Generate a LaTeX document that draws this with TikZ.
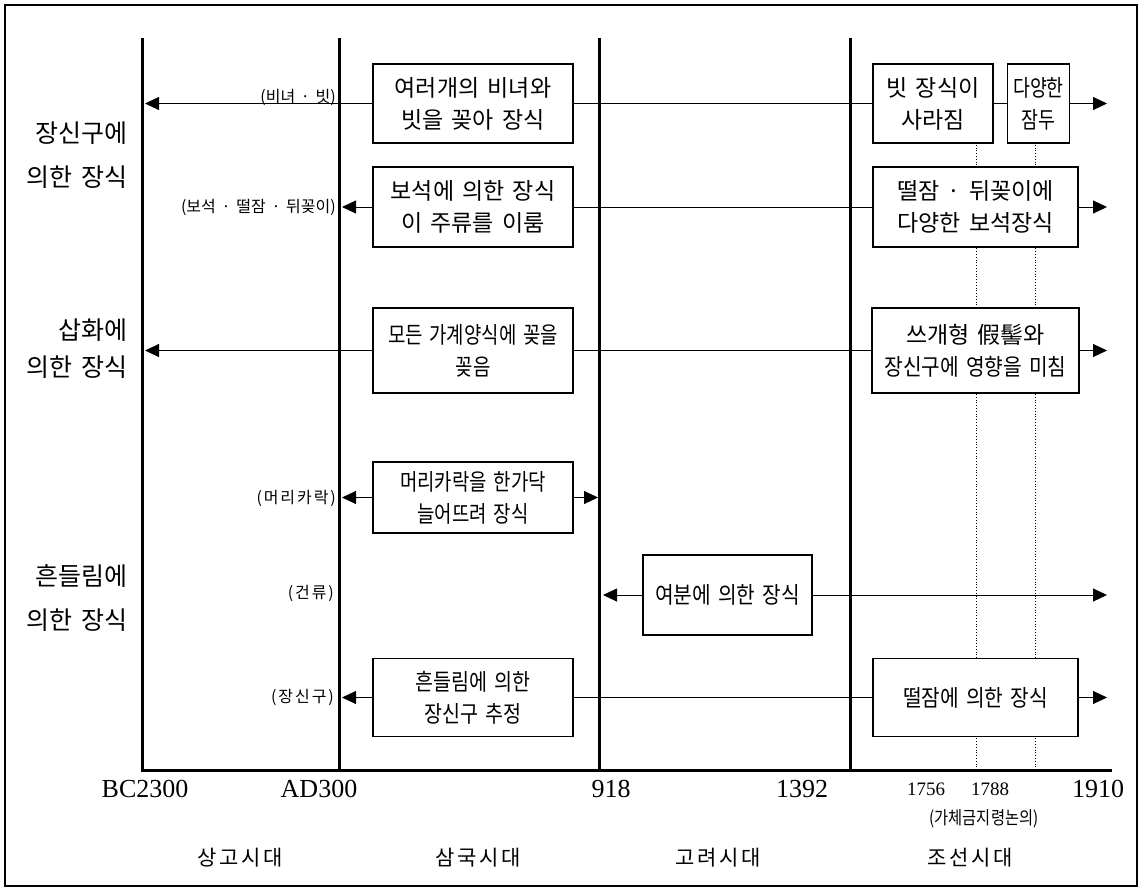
\documentclass[tikz,border=0pt]{standalone}
\usepackage{fontspec}
\usepackage{graphicx}
\setmainfont{Liberation Serif}
\newfontfamily\kr[WordSpace=2]{Noto Sans CJK KR}
\newfontfamily\krsm[WordSpace=1.6]{Noto Sans CJK KR}
\newfontfamily\krls[WordSpace=2,LetterSpace=12]{Noto Sans CJK KR}
\newcommand\hsq[2]{\scalebox{#1}[1]{#2}}
\usetikzlibrary{arrows.meta}
\begin{document}
\begin{tikzpicture}[x=1pt,y=-1pt,
  period/.style={line width=3pt, line join=miter},
  boxnode/.style={draw, line width=1.2pt, fill=white, align=center, inner sep=0pt, font=\kr\fontsize{23}{32}\selectfont},
  conn/.style={line width=0.9pt},
  arr/.style={line width=0.9pt, -{Triangle[length=14pt,width=13pt]}},
  dotline/.style={line width=0.8pt, dotted},
  side/.style={font=\kr\fontsize{25}{28}\selectfont, anchor=east, inner sep=0pt},
  small/.style={font=\krls\fontsize{16}{18}\selectfont, anchor=east, inner sep=0pt},
  smalldot/.style={font=\krsm\fontsize{16}{18}\selectfont, anchor=east, inner sep=0pt},
  yearbig/.style={font=\fontsize{26}{28}\selectfont, inner sep=0pt},
  yearsmall/.style={font=\fontsize{19}{20}\selectfont, inner sep=0pt},
  era/.style={font=\krls\fontsize{21}{24}\selectfont, inner sep=0pt}
]
\useasboundingbox (0,0) rectangle (1142,891);
\draw[line width=1.5pt] (5,5) rectangle (1137,886);

% period lines
\coordinate (aT) at (142,38);
\coordinate (aB) at (142,770);
\coordinate (baseEnd) at (1112,770);
\coordinate (bT) at (339,38);
\coordinate (bB) at (339,770);
\coordinate (cT) at (599,38);
\coordinate (cB) at (599,770);
\coordinate (dT) at (850,38);
\coordinate (dB) at (850,770);
\draw[period] (aT) -- (aB) -- (baseEnd);
\draw[period] (bT) -- (bB);
\draw[period] (cT) -- (cB);
\draw[period] (dT) -- (dB);

% dotted lines 1756 / 1788
\coordinate (p1T) at (976,142);
\coordinate (p1B) at (976,770);
\coordinate (p2T) at (1035,142);
\coordinate (p2B) at (1035,770);
\draw[dotline] (p1T) -- (p1B);
\draw[dotline] (p2T) -- (p2B);

% side labels
\node[side] (s1a) at (128,133) {장신구에};
\node[side] (s1b) at (128,177) {의한 장식};
\node[side] (s2a) at (128,330) {삽화에};
\node[side] (s2b) at (128,367) {의한 장식};
\node[side] (s3a) at (128,576) {흔들림에};
\node[side] (s3b) at (128,620) {의한 장식};

% row 1
\node[boxnode, minimum width=200pt, minimum height=79pt] (b1) at (473,103.5) {여러개의 비녀와\\빗을 꽂아 장식};
\node[boxnode, minimum width=120pt, minimum height=79pt] (c1) at (933,103.5) {빗 장식이\\사라짐};
\node[boxnode, minimum width=62pt, minimum height=79pt] (d1) at (1038.5,103.5) {\hsq{0.8}{다양한}\\\hsq{0.8}{잠두}};
\coordinate (t1) at (145,103.5);
\coordinate (e1) at (1107,103.5);
\draw[arr] (b1.west) -- (t1);
\draw[conn] (b1.east) -- (c1.west);
\draw[conn] (c1.east) -- (d1.west);
\draw[arr] (d1.east) -- (e1);
\node[smalldot] (l1) at (336,97) {(비녀 · 빗)};

% row 2
\node[boxnode, minimum width=200pt, minimum height=80pt] (b2) at (473,207) {보석에 의한 장식\\이 주류를 이룸};
\node[boxnode, minimum width=205pt, minimum height=80pt] (c2) at (975.5,207) {떨잠 · 뒤꽂이에\\다양한 보석장식};
\coordinate (t2) at (342,207);
\coordinate (e2) at (1107,207);
\draw[arr] (b2.west) -- (t2);
\draw[conn] (b2.east) -- (c2.west);
\draw[arr] (c2.east) -- (e2);
\node[smalldot] (l2) at (336,207) {(보석 · 떨잠 · 뒤꽂이)};

% row 3
\node[boxnode, minimum width=200pt, minimum height=85pt] (b3) at (473,350.5) {\hsq{0.82}{모든 가계양식에 꽂을}\\\hsq{0.82}{꽂음}};
\node[boxnode, minimum width=207pt, minimum height=85pt] (c3) at (975.5,350.5) {쓰개형 假髻와\\\hsq{0.88}{장신구에 영향을 미침}};
\coordinate (t3) at (145,350.5);
\coordinate (e3) at (1107,350.5);
\draw[arr] (b3.west) -- (t3);
\draw[conn] (b3.east) -- (c3.west);
\draw[arr] (c3.east) -- (e3);

% row 4
\node[boxnode, minimum width=200pt, minimum height=71pt] (b4) at (473,497.5) {\hsq{0.82}{머리카락을 한가닥}\\\hsq{0.82}{늘어뜨려 장식}};
\coordinate (t4) at (342,497.5);
\coordinate (u4) at (598,497.5);
\draw[arr] (b4.west) -- (t4);
\draw[arr] (b4.east) -- (u4);
\node[small] (l4) at (336,498) {(머리카락)};

% row 5
\node[boxnode, minimum width=169pt, minimum height=80pt] (b5) at (727.5,595) {\hsq{0.88}{여분에 의한 장식}};
\coordinate (t5) at (603,595);
\coordinate (e5) at (1107,595);
\draw[arr] (b5.west) -- (t5);
\draw[arr] (b5.east) -- (e5);
\node[small] (l5) at (334,593) {(건류)};

% row 6
\node[boxnode, minimum width=200pt, minimum height=78pt] (b6) at (473,697.5) {\hsq{0.85}{흔들림에 의한}\\\hsq{0.85}{장신구 추정}};
\node[boxnode, minimum width=205pt, minimum height=78pt] (c6) at (975.5,697.5) {\hsq{0.88}{떨잠에 의한 장식}};
\coordinate (t6) at (342,697.5);
\coordinate (e6) at (1107,697.5);
\draw[arr] (b6.west) -- (t6);
\draw[conn] (b6.east) -- (c6.west);
\draw[arr] (c6.east) -- (e6);
\node[small] (l6) at (334,697) {(장신구)};

% years
\node[yearbig] (y1) at (145,789) {BC2300};
\node[yearbig] (y2) at (319,789) {AD300};
\node[yearbig] (y3) at (611,789) {918};
\node[yearbig] (y4) at (802,789) {1392};
\node[yearsmall] (y5) at (926,789) {1756};
\node[yearsmall] (y6) at (990,789) {1788};
\node[yearbig] (y7) at (1098,789) {1910};
\node[font=\kr\fontsize{18}{20}\selectfont, inner sep=0pt] (gc) at (984,819) {\hsq{0.85}{(가체금지령논의)}};

% eras
\node[era] (e1n) at (240,858) {상고시대};
\node[era] (e2n) at (478,858) {삼국시대};
\node[era] (e3n) at (718,858) {고려시대};
\node[era] (e4n) at (970,858) {조선시대};
\end{tikzpicture}
\end{document}
